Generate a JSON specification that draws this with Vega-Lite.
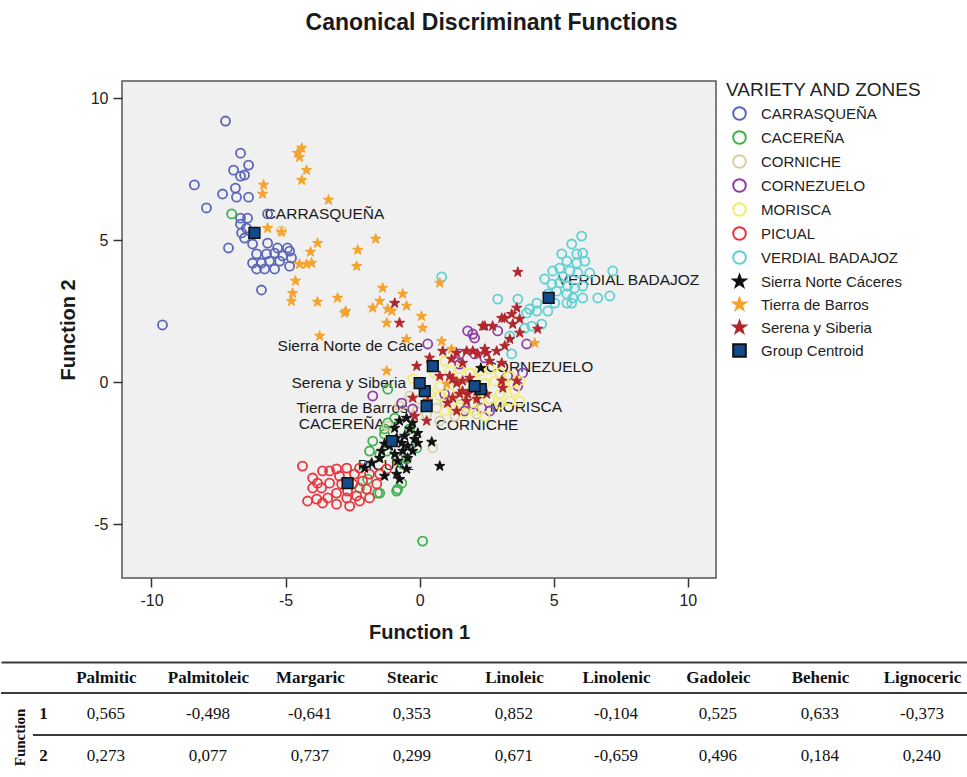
{
"$schema": "https://vega.github.io/schema/vega-lite/v6.json",
"padding": {"top": 12, "left": 0, "right": 0, "bottom": 0},
"autosize": {"type": "pad"},
"background": "white",
"title": {"text": "Canonical Discriminant Functions", "anchor": "middle", "dx": 7, "offset": 45, "fontSize": 23, "font": "Liberation Sans", "fontWeight": "bold", "color": "#1a1a1a"},
"config": {
  "font": "Liberation Sans",
  "view": {"stroke": null},
  "locale": {"number": {"decimal": ",", "thousands": ".", "grouping": [3], "currency": ["", ""], "minus": "-"}},
  "axis": {"labelFont": "Liberation Sans", "labelFontSize": 16, "labelColor": "#222", "titleFont": "Liberation Sans", "titleFontSize": 20, "titleFontWeight": "bold", "titleColor": "#1a1a1a", "tickColor": "#333", "tickWidth": 1.5, "tickSize": 9, "labelPadding": 5, "grid": false, "domain": false},
  "legend": {"titleFont": "Liberation Sans", "titleFontSize": 19, "titleFontWeight": "normal", "titleColor": "#222", "titleLimit": 400, "labelFont": "Liberation Sans", "labelFontSize": 15, "labelColor": "#222", "labelLimit": 300, "symbolSize": 160, "symbolStrokeWidth": 2, "rowPadding": 3, "offset": 10, "titlePadding": 6, "symbolOffset": 6, "labelOffset": 14, "padding": 0}
},
"datasets": {
"varieties": [
{"group":"CARRASQUEÑA","f1":-7.24,"f2":9.19},{"group":"CARRASQUEÑA","f1":-6.68,"f2":8.06},{"group":"CARRASQUEÑA","f1":-6.38,"f2":7.64},{"group":"CARRASQUEÑA","f1":-6.94,"f2":7.46},{"group":"CARRASQUEÑA","f1":-6.53,"f2":7.29},{"group":"CARRASQUEÑA","f1":-6.68,"f2":7.25},{"group":"CARRASQUEÑA","f1":-8.4,"f2":6.94},{"group":"CARRASQUEÑA","f1":-6.87,"f2":6.83},{"group":"CARRASQUEÑA","f1":-7.35,"f2":6.62},{"group":"CARRASQUEÑA","f1":-6.83,"f2":6.51},{"group":"CARRASQUEÑA","f1":-6.38,"f2":6.51},{"group":"CARRASQUEÑA","f1":-7.95,"f2":6.13},{"group":"CARRASQUEÑA","f1":-6.68,"f2":5.77},{"group":"CARRASQUEÑA","f1":-6.42,"f2":5.77},{"group":"CARRASQUEÑA","f1":-6.68,"f2":5.56},{"group":"CARRASQUEÑA","f1":-6.46,"f2":5.42},{"group":"CARRASQUEÑA","f1":-6.64,"f2":5.25},{"group":"CARRASQUEÑA","f1":-5.67,"f2":5.92},{"group":"CARRASQUEÑA","f1":-6.53,"f2":5.07},{"group":"CARRASQUEÑA","f1":-7.13,"f2":4.72},{"group":"CARRASQUEÑA","f1":-6.23,"f2":4.86},{"group":"CARRASQUEÑA","f1":-5.67,"f2":4.89},{"group":"CARRASQUEÑA","f1":-5.3,"f2":4.72},{"group":"CARRASQUEÑA","f1":-4.93,"f2":4.72},{"group":"CARRASQUEÑA","f1":-4.85,"f2":4.61},{"group":"CARRASQUEÑA","f1":-6.08,"f2":4.51},{"group":"CARRASQUEÑA","f1":-5.71,"f2":4.51},{"group":"CARRASQUEÑA","f1":-5.41,"f2":4.54},{"group":"CARRASQUEÑA","f1":-5.11,"f2":4.44},{"group":"CARRASQUEÑA","f1":-6.23,"f2":4.19},{"group":"CARRASQUEÑA","f1":-5.9,"f2":4.19},{"group":"CARRASQUEÑA","f1":-5.6,"f2":4.26},{"group":"CARRASQUEÑA","f1":-5.22,"f2":4.26},{"group":"CARRASQUEÑA","f1":-4.78,"f2":4.37},{"group":"CARRASQUEÑA","f1":-6.08,"f2":3.98},{"group":"CARRASQUEÑA","f1":-5.78,"f2":3.98},{"group":"CARRASQUEÑA","f1":-5.41,"f2":3.98},{"group":"CARRASQUEÑA","f1":-4.85,"f2":4.08},{"group":"CARRASQUEÑA","f1":-5.9,"f2":3.24},{"group":"CARRASQUEÑA","f1":-9.59,"f2":2.01},
{"group":"CACEREÑA","f1":-7.01,"f2":5.92},{"group":"CACEREÑA","f1":-1.49,"f2":-2.54},{"group":"CACEREÑA","f1":-1.23,"f2":-2.43},{"group":"CACEREÑA","f1":-0.82,"f2":-2.68},{"group":"CACEREÑA","f1":-0.63,"f2":-2.89},{"group":"CACEREÑA","f1":-0.49,"f2":-2.71},{"group":"CACEREÑA","f1":-0.11,"f2":-2.32},{"group":"CACEREÑA","f1":-1.87,"f2":-2.43},{"group":"CACEREÑA","f1":-1.31,"f2":-1.83},{"group":"CACEREÑA","f1":-1.75,"f2":-2.08},{"group":"CACEREÑA","f1":-1.49,"f2":-3.91},{"group":"CACEREÑA","f1":-0.86,"f2":-3.84},{"group":"CACEREÑA","f1":-0.67,"f2":-3.56},{"group":"CACEREÑA","f1":-1.19,"f2":-0.25},{"group":"CACEREÑA","f1":-0.82,"f2":-3.77},{"group":"CACEREÑA","f1":-1.57,"f2":-3.91},{"group":"CACEREÑA","f1":-1.19,"f2":-1.44},{"group":"CACEREÑA","f1":-1.31,"f2":-1.65},{"group":"CACEREÑA","f1":-0.93,"f2":-1.27},{"group":"CACEREÑA","f1":0.11,"f2":-5.6},{"group":"CACEREÑA","f1":-2.24,"f2":-3.73},{"group":"CACEREÑA","f1":-1.94,"f2":-3.42},{"group":"CACEREÑA","f1":-0.37,"f2":-1.65},
{"group":"CORNICHE","f1":-5.15,"f2":5.32},{"group":"CORNICHE","f1":0.49,"f2":-2.32},{"group":"CORNICHE","f1":-0.11,"f2":-1.02},{"group":"CORNICHE","f1":0.26,"f2":-1.13},{"group":"CORNICHE","f1":0.63,"f2":-0.92},{"group":"CORNICHE","f1":1.75,"f2":-0.92},{"group":"CORNICHE","f1":2.13,"f2":-1.13},{"group":"CORNICHE","f1":-1.19,"f2":-1.55},{"group":"CORNICHE","f1":0.93,"f2":-0.67},{"group":"CORNICHE","f1":1.31,"f2":-1.2},{"group":"CORNICHE","f1":-0.37,"f2":-0.49},{"group":"CORNICHE","f1":0.0,"f2":-0.6},{"group":"CORNICHE","f1":-0.75,"f2":-0.85},{"group":"CORNICHE","f1":0.75,"f2":-1.37},{"group":"CORNICHE","f1":1.49,"f2":-0.49},
{"group":"CORNEZUELO","f1":1.79,"f2":1.8},{"group":"CORNEZUELO","f1":1.98,"f2":1.69},{"group":"CORNEZUELO","f1":1.49,"f2":0.99},{"group":"CORNEZUELO","f1":-1.75,"f2":-0.49},{"group":"CORNEZUELO","f1":0.3,"f2":1.34},{"group":"CORNEZUELO","f1":3.99,"f2":1.34},{"group":"CORNEZUELO","f1":3.84,"f2":0.32},{"group":"CORNEZUELO","f1":3.66,"f2":-0.14},{"group":"CORNEZUELO","f1":3.28,"f2":0.21},{"group":"CORNEZUELO","f1":2.05,"f2":1.55},{"group":"CORNEZUELO","f1":0.93,"f2":-0.42},{"group":"CORNEZUELO","f1":2.24,"f2":-0.21},{"group":"CORNEZUELO","f1":2.43,"f2":0.85},{"group":"CORNEZUELO","f1":2.05,"f2":0.99},{"group":"CORNEZUELO","f1":1.49,"f2":0.63},{"group":"CORNEZUELO","f1":-0.67,"f2":-0.74},{"group":"CORNEZUELO","f1":-0.26,"f2":-0.95},{"group":"CORNEZUELO","f1":2.31,"f2":-0.92},{"group":"CORNEZUELO","f1":1.98,"f2":-0.77},{"group":"CORNEZUELO","f1":2.91,"f2":1.8},{"group":"CORNEZUELO","f1":1.68,"f2":-1.02},{"group":"CORNEZUELO","f1":2.61,"f2":-1.02},
{"group":"MORISCA","f1":1.12,"f2":0.39},{"group":"MORISCA","f1":1.49,"f2":0.46},{"group":"MORISCA","f1":1.87,"f2":0.32},{"group":"MORISCA","f1":2.24,"f2":0.39},{"group":"MORISCA","f1":2.61,"f2":0.46},{"group":"MORISCA","f1":2.99,"f2":0.32},{"group":"MORISCA","f1":3.36,"f2":0.21},{"group":"MORISCA","f1":1.31,"f2":0.04},{"group":"MORISCA","f1":1.68,"f2":-0.14},{"group":"MORISCA","f1":2.05,"f2":0.04},{"group":"MORISCA","f1":2.43,"f2":-0.04},{"group":"MORISCA","f1":2.8,"f2":0.04},{"group":"MORISCA","f1":3.17,"f2":-0.14},{"group":"MORISCA","f1":3.54,"f2":-0.32},{"group":"MORISCA","f1":1.12,"f2":-0.39},{"group":"MORISCA","f1":1.49,"f2":-0.6},{"group":"MORISCA","f1":1.87,"f2":-0.49},{"group":"MORISCA","f1":2.24,"f2":-0.67},{"group":"MORISCA","f1":2.61,"f2":-0.6},{"group":"MORISCA","f1":2.99,"f2":-0.77},{"group":"MORISCA","f1":3.36,"f2":-0.67},{"group":"MORISCA","f1":0.93,"f2":-1.02},{"group":"MORISCA","f1":1.31,"f2":-0.95},{"group":"MORISCA","f1":1.68,"f2":-1.09},{"group":"MORISCA","f1":2.05,"f2":-1.02},{"group":"MORISCA","f1":2.43,"f2":-1.2},{"group":"MORISCA","f1":0.75,"f2":-0.14},{"group":"MORISCA","f1":0.37,"f2":-0.39},{"group":"MORISCA","f1":0.75,"f2":-0.49},{"group":"MORISCA","f1":2.99,"f2":-0.42},{"group":"MORISCA","f1":3.73,"f2":0.04},{"group":"MORISCA","f1":3.73,"f2":-0.67},{"group":"MORISCA","f1":0.56,"f2":0.32},{"group":"MORISCA","f1":0.93,"f2":0.74},{"group":"MORISCA","f1":-0.26,"f2":0.11},
{"group":"PICUAL","f1":-4.37,"f2":-2.96},{"group":"PICUAL","f1":-3.99,"f2":-3.38},{"group":"PICUAL","f1":-3.62,"f2":-3.13},{"group":"PICUAL","f1":-3.36,"f2":-3.56},{"group":"PICUAL","f1":-3.1,"f2":-3.06},{"group":"PICUAL","f1":-2.99,"f2":-3.31},{"group":"PICUAL","f1":-2.72,"f2":-3.03},{"group":"PICUAL","f1":-2.43,"f2":-3.24},{"group":"PICUAL","f1":-2.5,"f2":-3.59},{"group":"PICUAL","f1":-2.24,"f2":-3.03},{"group":"PICUAL","f1":-2.13,"f2":-3.49},{"group":"PICUAL","f1":-1.87,"f2":-3.24},{"group":"PICUAL","f1":-1.98,"f2":-3.77},{"group":"PICUAL","f1":-2.35,"f2":-4.01},{"group":"PICUAL","f1":-2.72,"f2":-4.08},{"group":"PICUAL","f1":-3.1,"f2":-3.91},{"group":"PICUAL","f1":-3.43,"f2":-4.08},{"group":"PICUAL","f1":-3.84,"f2":-4.12},{"group":"PICUAL","f1":-4.18,"f2":-4.19},{"group":"PICUAL","f1":-3.99,"f2":-3.73},{"group":"PICUAL","f1":-3.66,"f2":-3.73},{"group":"PICUAL","f1":-3.62,"f2":-4.26},{"group":"PICUAL","f1":-3.1,"f2":-4.3},{"group":"PICUAL","f1":-2.61,"f2":-4.37},{"group":"PICUAL","f1":-2.24,"f2":-4.19},{"group":"PICUAL","f1":-1.87,"f2":-4.08},{"group":"PICUAL","f1":-1.6,"f2":-3.59},{"group":"PICUAL","f1":-1.49,"f2":-3.24},{"group":"PICUAL","f1":-1.23,"f2":-3.06},{"group":"PICUAL","f1":-2.69,"f2":-3.84},{"group":"PICUAL","f1":-2.91,"f2":-3.59},{"group":"PICUAL","f1":-3.36,"f2":-3.13},{"group":"PICUAL","f1":-3.81,"f2":-3.56},
{"group":"VERDIAL BADAJOZ","f1":0.82,"f2":3.7},{"group":"VERDIAL BADAJOZ","f1":6.04,"f2":5.14},{"group":"VERDIAL BADAJOZ","f1":5.67,"f2":4.86},{"group":"VERDIAL BADAJOZ","f1":6.08,"f2":4.54},{"group":"VERDIAL BADAJOZ","f1":5.86,"f2":4.51},{"group":"VERDIAL BADAJOZ","f1":5.3,"f2":4.51},{"group":"VERDIAL BADAJOZ","f1":5.49,"f2":4.26},{"group":"VERDIAL BADAJOZ","f1":5.86,"f2":4.19},{"group":"VERDIAL BADAJOZ","f1":6.16,"f2":4.26},{"group":"VERDIAL BADAJOZ","f1":4.96,"f2":3.91},{"group":"VERDIAL BADAJOZ","f1":5.22,"f2":4.01},{"group":"VERDIAL BADAJOZ","f1":5.6,"f2":3.91},{"group":"VERDIAL BADAJOZ","f1":5.9,"f2":3.84},{"group":"VERDIAL BADAJOZ","f1":7.2,"f2":3.91},{"group":"VERDIAL BADAJOZ","f1":4.93,"f2":3.45},{"group":"VERDIAL BADAJOZ","f1":5.22,"f2":3.49},{"group":"VERDIAL BADAJOZ","f1":5.52,"f2":3.38},{"group":"VERDIAL BADAJOZ","f1":5.78,"f2":3.31},{"group":"VERDIAL BADAJOZ","f1":6.08,"f2":3.38},{"group":"VERDIAL BADAJOZ","f1":4.78,"f2":3.1},{"group":"VERDIAL BADAJOZ","f1":5.11,"f2":3.2},{"group":"VERDIAL BADAJOZ","f1":5.49,"f2":3.1},{"group":"VERDIAL BADAJOZ","f1":5.71,"f2":2.96},{"group":"VERDIAL BADAJOZ","f1":6.08,"f2":2.96},{"group":"VERDIAL BADAJOZ","f1":6.64,"f2":2.96},{"group":"VERDIAL BADAJOZ","f1":7.09,"f2":3.03},{"group":"VERDIAL BADAJOZ","f1":5.04,"f2":2.78},{"group":"VERDIAL BADAJOZ","f1":5.49,"f2":2.78},{"group":"VERDIAL BADAJOZ","f1":5.67,"f2":2.78},{"group":"VERDIAL BADAJOZ","f1":2.91,"f2":2.92},{"group":"VERDIAL BADAJOZ","f1":3.66,"f2":2.92},{"group":"VERDIAL BADAJOZ","f1":4.37,"f2":2.78},{"group":"VERDIAL BADAJOZ","f1":4.1,"f2":2.57},{"group":"VERDIAL BADAJOZ","f1":3.99,"f2":2.43},{"group":"VERDIAL BADAJOZ","f1":4.37,"f2":2.5},{"group":"VERDIAL BADAJOZ","f1":3.92,"f2":1.9},{"group":"VERDIAL BADAJOZ","f1":4.18,"f2":1.97},{"group":"VERDIAL BADAJOZ","f1":4.55,"f2":2.04},{"group":"VERDIAL BADAJOZ","f1":3.36,"f2":1.62},{"group":"VERDIAL BADAJOZ","f1":3.43,"f2":0.99},{"group":"VERDIAL BADAJOZ","f1":4.66,"f2":3.63},{"group":"VERDIAL BADAJOZ","f1":6.34,"f2":3.84},{"group":"VERDIAL BADAJOZ","f1":5.34,"f2":3.7},{"group":"VERDIAL BADAJOZ","f1":4.78,"f2":2.5}
],
"zones": [
{"group":"Sierra Norte Cáceres","f1":-0.75,"f2":-1.37},{"group":"Sierra Norte Cáceres","f1":-0.49,"f2":-1.27},{"group":"Sierra Norte Cáceres","f1":-0.26,"f2":-1.44},{"group":"Sierra Norte Cáceres","f1":-0.93,"f2":-1.62},{"group":"Sierra Norte Cáceres","f1":-0.37,"f2":-1.65},{"group":"Sierra Norte Cáceres","f1":-0.07,"f2":-1.8},{"group":"Sierra Norte Cáceres","f1":-0.86,"f2":-1.97},{"group":"Sierra Norte Cáceres","f1":-0.56,"f2":-1.9},{"group":"Sierra Norte Cáceres","f1":-0.19,"f2":-2.01},{"group":"Sierra Norte Cáceres","f1":-1.31,"f2":-2.18},{"group":"Sierra Norte Cáceres","f1":-1.12,"f2":-2.25},{"group":"Sierra Norte Cáceres","f1":-0.67,"f2":-2.15},{"group":"Sierra Norte Cáceres","f1":-0.45,"f2":-2.25},{"group":"Sierra Norte Cáceres","f1":-0.07,"f2":-2.15},{"group":"Sierra Norte Cáceres","f1":-0.26,"f2":-2.43},{"group":"Sierra Norte Cáceres","f1":-0.63,"f2":-2.43},{"group":"Sierra Norte Cáceres","f1":-0.93,"f2":-2.54},{"group":"Sierra Norte Cáceres","f1":-1.42,"f2":-2.43},{"group":"Sierra Norte Cáceres","f1":-0.45,"f2":-2.68},{"group":"Sierra Norte Cáceres","f1":-0.82,"f2":-2.78},{"group":"Sierra Norte Cáceres","f1":-2.05,"f2":-3.03},{"group":"Sierra Norte Cáceres","f1":-1.31,"f2":-3.31},{"group":"Sierra Norte Cáceres","f1":-0.86,"f2":-3.24},{"group":"Sierra Norte Cáceres","f1":-0.75,"f2":-3.42},{"group":"Sierra Norte Cáceres","f1":-0.49,"f2":-3.06},{"group":"Sierra Norte Cáceres","f1":0.45,"f2":-2.11},{"group":"Sierra Norte Cáceres","f1":0.75,"f2":-2.96},{"group":"Sierra Norte Cáceres","f1":2.28,"f2":0.49},{"group":"Sierra Norte Cáceres","f1":-1.49,"f2":-2.68},{"group":"Sierra Norte Cáceres","f1":-1.79,"f2":-2.85},
{"group":"Tierra de Barros","f1":-4.4,"f2":8.24},{"group":"Tierra de Barros","f1":-4.55,"f2":8.06},{"group":"Tierra de Barros","f1":-4.48,"f2":7.92},{"group":"Tierra de Barros","f1":-4.22,"f2":7.46},{"group":"Tierra de Barros","f1":-4.4,"f2":7.11},{"group":"Tierra de Barros","f1":-5.82,"f2":6.94},{"group":"Tierra de Barros","f1":-5.86,"f2":6.62},{"group":"Tierra de Barros","f1":-3.4,"f2":6.41},{"group":"Tierra de Barros","f1":-5.67,"f2":5.42},{"group":"Tierra de Barros","f1":-5.15,"f2":5.28},{"group":"Tierra de Barros","f1":-1.64,"f2":5.04},{"group":"Tierra de Barros","f1":-3.81,"f2":4.89},{"group":"Tierra de Barros","f1":-2.31,"f2":4.65},{"group":"Tierra de Barros","f1":-4.07,"f2":4.58},{"group":"Tierra de Barros","f1":-2.35,"f2":4.08},{"group":"Tierra de Barros","f1":-4.48,"f2":4.15},{"group":"Tierra de Barros","f1":-4.22,"f2":4.15},{"group":"Tierra de Barros","f1":-4.03,"f2":4.19},{"group":"Tierra de Barros","f1":-4.63,"f2":3.56},{"group":"Tierra de Barros","f1":-1.38,"f2":3.31},{"group":"Tierra de Barros","f1":-4.74,"f2":3.13},{"group":"Tierra de Barros","f1":-4.78,"f2":2.85},{"group":"Tierra de Barros","f1":-3.81,"f2":2.82},{"group":"Tierra de Barros","f1":-3.06,"f2":2.96},{"group":"Tierra de Barros","f1":-2.76,"f2":2.5},{"group":"Tierra de Barros","f1":-1.75,"f2":2.61},{"group":"Tierra de Barros","f1":-1.49,"f2":2.85},{"group":"Tierra de Barros","f1":-1.19,"f2":2.57},{"group":"Tierra de Barros","f1":-0.63,"f2":3.1},{"group":"Tierra de Barros","f1":-0.49,"f2":2.68},{"group":"Tierra de Barros","f1":0.07,"f2":2.32},{"group":"Tierra de Barros","f1":0.11,"f2":1.9},{"group":"Tierra de Barros","f1":-1.04,"f2":2.5},{"group":"Tierra de Barros","f1":-1.23,"f2":2.08},{"group":"Tierra de Barros","f1":-3.73,"f2":1.62},{"group":"Tierra de Barros","f1":-0.49,"f2":1.51},{"group":"Tierra de Barros","f1":0.82,"f2":1.44},{"group":"Tierra de Barros","f1":-1.23,"f2":0.39},{"group":"Tierra de Barros","f1":1.01,"f2":-0.07},{"group":"Tierra de Barros","f1":0.75,"f2":3.49},{"group":"Tierra de Barros","f1":4.29,"f2":1.37},{"group":"Tierra de Barros","f1":1.19,"f2":1.16},{"group":"Tierra de Barros","f1":-2.8,"f2":2.43},
{"group":"Serena y Siberia","f1":3.66,"f2":3.87},{"group":"Serena y Siberia","f1":-0.93,"f2":2.78},{"group":"Serena y Siberia","f1":-0.75,"f2":2.08},{"group":"Serena y Siberia","f1":2.43,"f2":1.97},{"group":"Serena y Siberia","f1":2.72,"f2":1.97},{"group":"Serena y Siberia","f1":3.06,"f2":2.25},{"group":"Serena y Siberia","f1":3.43,"f2":2.39},{"group":"Serena y Siberia","f1":3.62,"f2":2.61},{"group":"Serena y Siberia","f1":3.17,"f2":2.25},{"group":"Serena y Siberia","f1":3.73,"f2":2.22},{"group":"Serena y Siberia","f1":3.47,"f2":2.04},{"group":"Serena y Siberia","f1":4.4,"f2":1.87},{"group":"Serena y Siberia","f1":3.73,"f2":1.73},{"group":"Serena y Siberia","f1":3.36,"f2":1.51},{"group":"Serena y Siberia","f1":3.17,"f2":1.27},{"group":"Serena y Siberia","f1":2.87,"f2":1.09},{"group":"Serena y Siberia","f1":2.43,"f2":1.16},{"group":"Serena y Siberia","f1":2.16,"f2":0.99},{"group":"Serena y Siberia","f1":1.75,"f2":1.09},{"group":"Serena y Siberia","f1":2.61,"f2":0.74},{"group":"Serena y Siberia","f1":3.06,"f2":0.67},{"group":"Serena y Siberia","f1":1.19,"f2":0.81},{"group":"Serena y Siberia","f1":1.6,"f2":0.67},{"group":"Serena y Siberia","f1":0.75,"f2":0.21},{"group":"Serena y Siberia","f1":1.23,"f2":0.11},{"group":"Serena y Siberia","f1":1.6,"f2":0.04},{"group":"Serena y Siberia","f1":1.87,"f2":0.14},{"group":"Serena y Siberia","f1":3.06,"f2":0.04},{"group":"Serena y Siberia","f1":1.49,"f2":-0.42},{"group":"Serena y Siberia","f1":1.79,"f2":-0.42},{"group":"Serena y Siberia","f1":2.13,"f2":-0.32},{"group":"Serena y Siberia","f1":1.04,"f2":-0.74},{"group":"Serena y Siberia","f1":-0.11,"f2":0.56},{"group":"Serena y Siberia","f1":0.37,"f2":0.85},{"group":"Serena y Siberia","f1":0.86,"f2":1.09},{"group":"Serena y Siberia","f1":1.38,"f2":1.02},{"group":"Serena y Siberia","f1":1.98,"f2":1.09},{"group":"Serena y Siberia","f1":2.5,"f2":1.02},{"group":"Serena y Siberia","f1":1.12,"f2":0.21},{"group":"Serena y Siberia","f1":1.38,"f2":-0.04},{"group":"Serena y Siberia","f1":1.6,"f2":-0.32},{"group":"Serena y Siberia","f1":2.5,"f2":-0.42},{"group":"Serena y Siberia","f1":1.23,"f2":-0.56},{"group":"Serena y Siberia","f1":1.75,"f2":-0.67},{"group":"Serena y Siberia","f1":2.13,"f2":-0.6},{"group":"Serena y Siberia","f1":3.1,"f2":-0.21},{"group":"Serena y Siberia","f1":3.62,"f2":0.04},{"group":"Serena y Siberia","f1":1.38,"f2":-1.02},{"group":"Serena y Siberia","f1":-0.26,"f2":-0.56},{"group":"Serena y Siberia","f1":0.3,"f2":-0.67},{"group":"Serena y Siberia","f1":-0.19,"f2":-1.2},{"group":"Serena y Siberia","f1":0.26,"f2":-1.37},{"group":"Serena y Siberia","f1":2.35,"f2":1.97}
],
"centroids": [
{"group":"Group Centroid","of":"CARRASQUEÑA","label":"CARRASQUEÑA","f1":-6.16,"f2":5.25,"lx":-5.78,"ly":5.92},
{"group":"Group Centroid","of":"VERDIAL BADAJOZ","label":"VERDIAL BADAJOZ","f1":4.81,"f2":2.96,"lx":5.15,"ly":3.59},
{"group":"Group Centroid","of":"CORNEZUELO","label":"CORNEZUELO","f1":2.28,"f2":-0.25,"lx":2.46,"ly":0.53},
{"group":"Group Centroid","of":"MORISCA","label":"MORISCA","f1":2.05,"f2":-0.14,"lx":2.61,"ly":-0.88},
{"group":"Group Centroid","of":"CORNICHE","label":"CORNICHE","f1":0.26,"f2":-0.85,"lx":0.6,"ly":-1.51},
{"group":"Group Centroid","of":"PICUAL","label":"PICUAL","f1":-2.69,"f2":-3.56,"lx":-2.31,"ly":-2.92},
{"group":"Group Centroid","of":"CACEREÑA","label":"CACEREÑA","f1":-1.04,"f2":-2.08,"lx":-4.51,"ly":-1.48},
{"group":"Group Centroid","of":"Tierra de Barros","label":"Tierra de Barros","f1":0.19,"f2":-0.32,"lx":-4.59,"ly":-0.92},
{"group":"Group Centroid","of":"Serena y Siberia","label":"Serena y Siberia","f1":0.0,"f2":-0.04,"lx":-4.78,"ly":-0.04},
{"group":"Group Centroid","of":"Sierra Norte Cáceres","label":"Sierra Norte de Cáce","f1":0.49,"f2":0.56,"lx":-5.3,"ly":1.27}
],
"coef": [
{"fn":"1","acid":"Palmitic","coef":0.565},{"fn":"1","acid":"Palmitoleic","coef":-0.498},{"fn":"1","acid":"Margaric","coef":-0.641},{"fn":"1","acid":"Stearic","coef":0.353},{"fn":"1","acid":"Linoleic","coef":0.852},{"fn":"1","acid":"Linolenic","coef":-0.104},{"fn":"1","acid":"Gadoleic","coef":0.525},{"fn":"1","acid":"Behenic","coef":0.633},{"fn":"1","acid":"Lignoceric","coef":-0.373},
{"fn":"2","acid":"Palmitic","coef":0.273},{"fn":"2","acid":"Palmitoleic","coef":0.077},{"fn":"2","acid":"Margaric","coef":0.737},{"fn":"2","acid":"Stearic","coef":0.299},{"fn":"2","acid":"Linoleic","coef":0.671},{"fn":"2","acid":"Linolenic","coef":-0.659},{"fn":"2","acid":"Gadoleic","coef":0.496},{"fn":"2","acid":"Behenic","coef":0.184},{"fn":"2","acid":"Lignoceric","coef":0.24}
]
},
"resolve": {"scale": {"shape": "independent", "stroke": "independent", "fill": "independent"}, "legend": {"shape": "independent", "stroke": "independent", "fill": "independent"}},
"vconcat": [
{"hconcat": [
  {"width": 56, "height": 10, "data": {"values": [{}]}, "mark": {"type": "text"}, "encoding": {"text": {"value": ""}}},
  {"width": 594, "height": 497,
   "view": {"fill": "#f0f0f0", "stroke": "#555555", "strokeWidth": 1.5},
   "layer": [
    {"data": {"name": "centroids"},
     "mark": {"type": "text", "align": "left", "baseline": "middle", "font": "Liberation Sans", "fontSize": 15.5, "color": "#1a1a1a"},
     "encoding": {
       "x": {"field": "lx", "type": "quantitative", "title": "Function 1", "scale": {"domain": [-11.1, 11.05], "nice": false, "zero": false}, "axis": {"values": [-10, -5, 0, 5, 10], "titlePadding": 14}},
       "y": {"field": "ly", "type": "quantitative", "title": "Function 2", "scale": {"domain": [-6.9, 10.6], "nice": false, "zero": false}, "axis": {"values": [-5, 0, 5, 10], "titlePadding": 12}},
       "text": {"field": "label", "type": "nominal"}
     }},
    {"data": {"name": "varieties"},
     "mark": {"type": "point", "filled": true, "opacity": 1, "strokeWidth": 1.8, "size": 82},
     "encoding": {
       "x": {"field": "f1", "type": "quantitative", "title": "Function 1"},
       "y": {"field": "f2", "type": "quantitative", "title": "Function 2"},
       "shape": {"field": "group", "type": "nominal", "title": "VARIETY AND ZONES", "scale": {"domain": ["CARRASQUEÑA","CACEREÑA","CORNICHE","CORNEZUELO","MORISCA","PICUAL","VERDIAL BADAJOZ","Sierra Norte Cáceres","Tierra de Barros","Serena y Siberia","Group Centroid"], "range": ["circle","circle","circle","circle","circle","circle","circle","M0,-1L0.235,-0.324L0.951,-0.309L0.38,0.124L0.588,0.809L0,0.4L-0.588,0.809L-0.38,0.124L-0.951,-0.309L-0.235,-0.324Z","M0,-1L0.235,-0.324L0.951,-0.309L0.38,0.124L0.588,0.809L0,0.4L-0.588,0.809L-0.38,0.124L-0.951,-0.309L-0.235,-0.324Z","M0,-1L0.235,-0.324L0.951,-0.309L0.38,0.124L0.588,0.809L0,0.4L-0.588,0.809L-0.38,0.124L-0.951,-0.309L-0.235,-0.324Z","square"]}},
       "stroke": {"field": "group", "type": "nominal", "title": "VARIETY AND ZONES", "scale": {"domain": ["CARRASQUEÑA","CACEREÑA","CORNICHE","CORNEZUELO","MORISCA","PICUAL","VERDIAL BADAJOZ","Sierra Norte Cáceres","Tierra de Barros","Serena y Siberia","Group Centroid"], "range": ["#5a66b8","#3fb14d","#d8cfa5","#8e3fa2","#f2ec6a","#e8353e","#5fd0d3","#111111","#f5a32a","#b3262e","#111111"]}},
       "fill": {"field": "group", "type": "nominal", "title": "VARIETY AND ZONES", "scale": {"domain": ["CARRASQUEÑA","CACEREÑA","CORNICHE","CORNEZUELO","MORISCA","PICUAL","VERDIAL BADAJOZ","Sierra Norte Cáceres","Tierra de Barros","Serena y Siberia","Group Centroid"], "range": ["transparent","transparent","transparent","transparent","transparent","transparent","transparent","#111111","#f5a32a","#b3262e","#14498a"]}}
     }},
    {"data": {"name": "zones"},
     "mark": {"type": "point", "filled": true, "opacity": 1, "strokeWidth": 1, "size": 115},
     "encoding": {
       "x": {"field": "f1", "type": "quantitative", "title": "Function 1"},
       "y": {"field": "f2", "type": "quantitative", "title": "Function 2"},
       "shape": {"field": "group", "type": "nominal", "title": "VARIETY AND ZONES"},
       "stroke": {"field": "group", "type": "nominal", "title": "VARIETY AND ZONES"},
       "fill": {"field": "group", "type": "nominal", "title": "VARIETY AND ZONES"}
     }},
    {"data": {"name": "centroids"},
     "mark": {"type": "point", "filled": true, "opacity": 1, "strokeWidth": 1.5, "size": 115},
     "encoding": {
       "x": {"field": "f1", "type": "quantitative", "title": "Function 1"},
       "y": {"field": "f2", "type": "quantitative", "title": "Function 2"},
       "shape": {"field": "group", "type": "nominal", "title": "VARIETY AND ZONES"},
       "stroke": {"field": "group", "type": "nominal", "title": "VARIETY AND ZONES"},
       "fill": {"field": "group", "type": "nominal", "title": "VARIETY AND ZONES"}
     }}
   ]}
 ], "spacing": 0,
 "resolve": {"scale": {"shape": "independent", "stroke": "independent", "fill": "independent"}, "legend": {"shape": "independent", "stroke": "independent", "fill": "independent"}}},
{"width": 967, "height": 84,
 "data": {"name": "coef"},
 "resolve": {"scale": {"x": "independent"}},
 "layer": [
  {"mark": {"type": "text", "font": "Liberation Serif", "fontSize": 17, "color": "#111111"},
   "encoding": {
     "x": {"field": "acid", "type": "nominal", "scale": {"type": "point", "domain": ["Palmitic","Palmitoleic","Margaric","Stearic","Linoleic","Linolenic","Gadoleic","Behenic","Lignoceric"], "padding": 0.74, "align": 0.695},
           "axis": {"orient": "top", "offset": 31, "labelPadding": -15, "labelBaseline": "middle", "labelFont": "Liberation Serif", "labelFontSize": 17, "labelFontWeight": "bold", "labelColor": "#111111", "labelAngle": 0, "ticks": false, "tickSize": 0, "domain": true, "domainColor": "#3a3a3a", "domainWidth": 2, "title": null}},
     "y": {"field": "fn", "type": "nominal", "scale": {"type": "band", "domain": ["1","2"], "paddingInner": 0, "paddingOuter": 0},
           "axis": {"orient": "left", "labelPadding": -42, "labelAlign": "center", "labelBaseline": "middle", "labelFont": "Liberation Serif", "labelFontSize": 17, "labelFontWeight": "bold", "labelColor": "#111111", "ticks": false, "tickSize": 0, "domain": false, "title": "Function", "titleFont": "Liberation Serif", "titleFontSize": 15, "titleFontWeight": "bold", "titleColor": "#111111", "titleAngle": 270, "titleX": 18, "titleY": 44, "titleAlign": "center", "titleBaseline": "middle"}},
     "text": {"field": "coef", "type": "quantitative", "format": ".3f"}
   }},
  {"data": {"values": [{}]}, "mark": {"type": "rule", "color": "#3a3a3a", "strokeWidth": 2},
   "encoding": {"y": {"datum": "1", "type": "nominal", "bandPosition": 0}}},
  {"data": {"values": [{}]}, "mark": {"type": "rule", "color": "#3a3a3a", "strokeWidth": 2},
   "encoding": {"y": {"datum": "2", "type": "nominal", "bandPosition": 0},
                "x": {"datum": 0.033, "type": "quantitative", "scale": {"domain": [0, 1]}, "axis": null},
                "x2": {"datum": 1}}}
 ]}
],
"spacing": 19
}
